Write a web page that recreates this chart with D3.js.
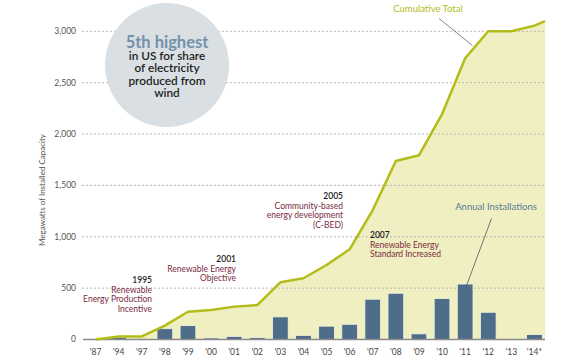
<!DOCTYPE html>
<html>
<head>
<meta charset="utf-8">
<script src="https://cdn.jsdelivr.net/npm/d3@7"></script>
<style>
  body { margin: 0; background: #fff; }
  svg { display: block; font-family: "Lato", "Open Sans", sans-serif; }
</style>
</head>
<body>
<script>
// Categories and values
var years = ["'87", "'94", "'97", "'98", "'99", "'00", "'01", "'02", "'03", "'04",
             "'05", "'06", "'07", "'08", "'09", "'10", "'11", "'12", "'13", "'14*"];
var annual = [0, 22, 0, 105, 135, 15, 30, 18, 220, 40, 130, 148, 392, 450, 55, 400, 540, 265, 0, 48];
var cumulative = [0, 30, 30, 135, 270, 287, 320, 335, 557, 596, 725, 878, 1260, 1738, 1793, 2193, 2738, 3000, 3000, 3055];
var cumulativeEnd = 3100; // value at right edge of plot
var yTicks = [0, 500, 1000, 1500, 2000, 2500, 3000];

var width = 574, height = 360;
var svg = d3.select("body").append("svg")
  .attr("width", width)
  .attr("height", height);

// Scales
var x = d3.scaleBand()
  .domain(years)
  .range([84, 546])
  .paddingInner(0.32)
  .paddingOuter(0.16);

var y = d3.scaleLinear()
  .domain([0, 3000])
  .range([339.5, 31.3]);

var cx = function(d) { return x(d) + x.bandwidth() / 2; };

// Cumulative area
var pts = years.map(function(d, i) { return [cx(d), y(cumulative[i])]; });
pts.push([x.range()[1] - 1, y(cumulativeEnd)]);

var area = d3.area()
  .x(function(d) { return d[0]; })
  .y0(y(0))
  .y1(function(d) { return d[1]; });

svg.append("path")
  .datum(pts)
  .attr("d", area)
  .attr("fill", "#efefc2");

// Gridlines
svg.append("g").selectAll("line")
  .data(yTicks.filter(function(d) { return d > 0; }))
  .enter().append("line")
    .attr("x1", 82)
    .attr("x2", 545)
    .attr("y1", function(d) { return y(d); })
    .attr("y2", function(d) { return y(d); })
    .attr("stroke", "#b8b8b8")
    .attr("stroke-width", 1)
    .attr("stroke-dasharray", "2,2");

// Y tick labels
svg.append("g").selectAll("text")
  .data(yTicks)
  .enter().append("text")
    .attr("x", 76)
    .attr("y", function(d) { return y(d); })
    .attr("dy", "0.35em")
    .attr("text-anchor", "end")
    .attr("font-size", 8.5)
    .attr("fill", "#555")
    .text(function(d) { return d3.format(",")(d); });

// Y axis title
svg.append("text")
  .attr("transform", "translate(45,190) rotate(-90)")
  .attr("text-anchor", "middle")
  .attr("font-size", 8)
  .attr("fill", "#555")
  .text("Megawatts of Installed Capacity");

// Annual bars
svg.append("g").selectAll("rect")
  .data(years.filter(function(d, i) { return annual[i] > 0; }))
  .enter().append("rect")
    .attr("x", function(d) { return x(d); })
    .attr("width", x.bandwidth())
    .attr("y", function(d) { return y(annual[years.indexOf(d)]); })
    .attr("height", function(d) { return y(0) - y(annual[years.indexOf(d)]); })
    .attr("fill", "#4e6d89")
    .attr("stroke", "#f4f4e0")
    .attr("stroke-width", 0.8);

// Baseline
svg.append("line")
  .attr("x1", 83).attr("x2", 545)
  .attr("y1", y(0)).attr("y2", y(0))
  .attr("stroke", "#8a8a8a")
  .attr("stroke-width", 1.5);

// Cumulative line
svg.append("path")
  .datum(pts)
  .attr("d", d3.line())
  .attr("fill", "none")
  .attr("stroke", "#b3bc18")
  .attr("stroke-width", 2.5)
  .attr("stroke-linejoin", "round");

// X labels
svg.append("g").selectAll("text")
  .data(years)
  .enter().append("text")
    .attr("x", cx)
    .attr("y", 352)
    .attr("dy", "0.35em")
    .attr("text-anchor", "middle")
    .attr("font-size", 8.5)
    .attr("fill", "#444")
    .text(function(d) { return d; });

// Circle callout
svg.append("circle")
  .attr("cx", 167).attr("cy", 65).attr("r", 62)
  .attr("fill", "#d9dfe3");

svg.append("text")
  .attr("x", 167).attr("y", 48)
  .attr("text-anchor", "middle")
  .attr("font-size", 16.5)
  .attr("font-weight", "bold")
  .attr("fill", "#7391aa")
  .text("5th highest");

var circleLines = ["in US for share", "of electricity", "produced from", "wind"];
svg.append("g").selectAll("text")
  .data(circleLines)
  .enter().append("text")
    .attr("x", 167)
    .attr("y", function(d, i) { return 59.5 + i * 12.6; })
    .attr("text-anchor", "middle")
    .attr("font-size", 11.8)
    .attr("font-weight", 600)
    .attr("fill", "#1f1f1f")
    .text(function(d) { return d; });

// Policy annotations
var notes = [
  { year: "1995", lines: ["Renewable", "Energy Production", "Incentive"], x: 152, y: 283, anchor: "end" },
  { year: "2001", lines: ["Renewable Energy", "Objective"], x: 236, y: 262, anchor: "end" },
  { year: "2005", lines: ["Community-based", "energy development", "(C-BED)"], x: 343, y: 199, anchor: "end" },
  { year: "2007", lines: ["Renewable Energy", "Standard Increased"], x: 370, y: 238, anchor: "start" }
];

notes.forEach(function(n) {
  var g = svg.append("g").attr("font-size", 8.5).attr("text-anchor", n.anchor);
  g.append("text")
    .attr("x", n.x).attr("y", n.y)
    .attr("fill", "#222")
    .attr("font-weight", 600)
    .text(n.year);
  n.lines.forEach(function(l, i) {
    g.append("text")
      .attr("x", n.x).attr("y", n.y + 9.5 * (i + 1))
      .attr("fill", "#7b2a3e")
      .text(l);
  });
});

// Series labels with leader lines
svg.append("text")
  .attr("x", 428).attr("y", 9).attr("dy", "0.35em")
  .attr("text-anchor", "middle")
  .attr("font-size", 9.5)
  .attr("fill", "#b3bc18")
  .text("Cumulative Total");
svg.append("line")
  .attr("x1", 439).attr("y1", 18.5).attr("x2", 472.5).attr("y2", 45.5)
  .attr("stroke", "#666").attr("stroke-width", 0.8);

svg.append("text")
  .attr("x", 496).attr("y", 207).attr("dy", "0.35em")
  .attr("text-anchor", "middle")
  .attr("font-size", 9.5)
  .attr("fill", "#5a7b97")
  .text("Annual Installations");
svg.append("line")
  .attr("x1", 491.5).attr("y1", 218.5).attr("x2", 466).attr("y2", 287)
  .attr("stroke", "#555").attr("stroke-width", 0.8);
</script>
</body>
</html>
